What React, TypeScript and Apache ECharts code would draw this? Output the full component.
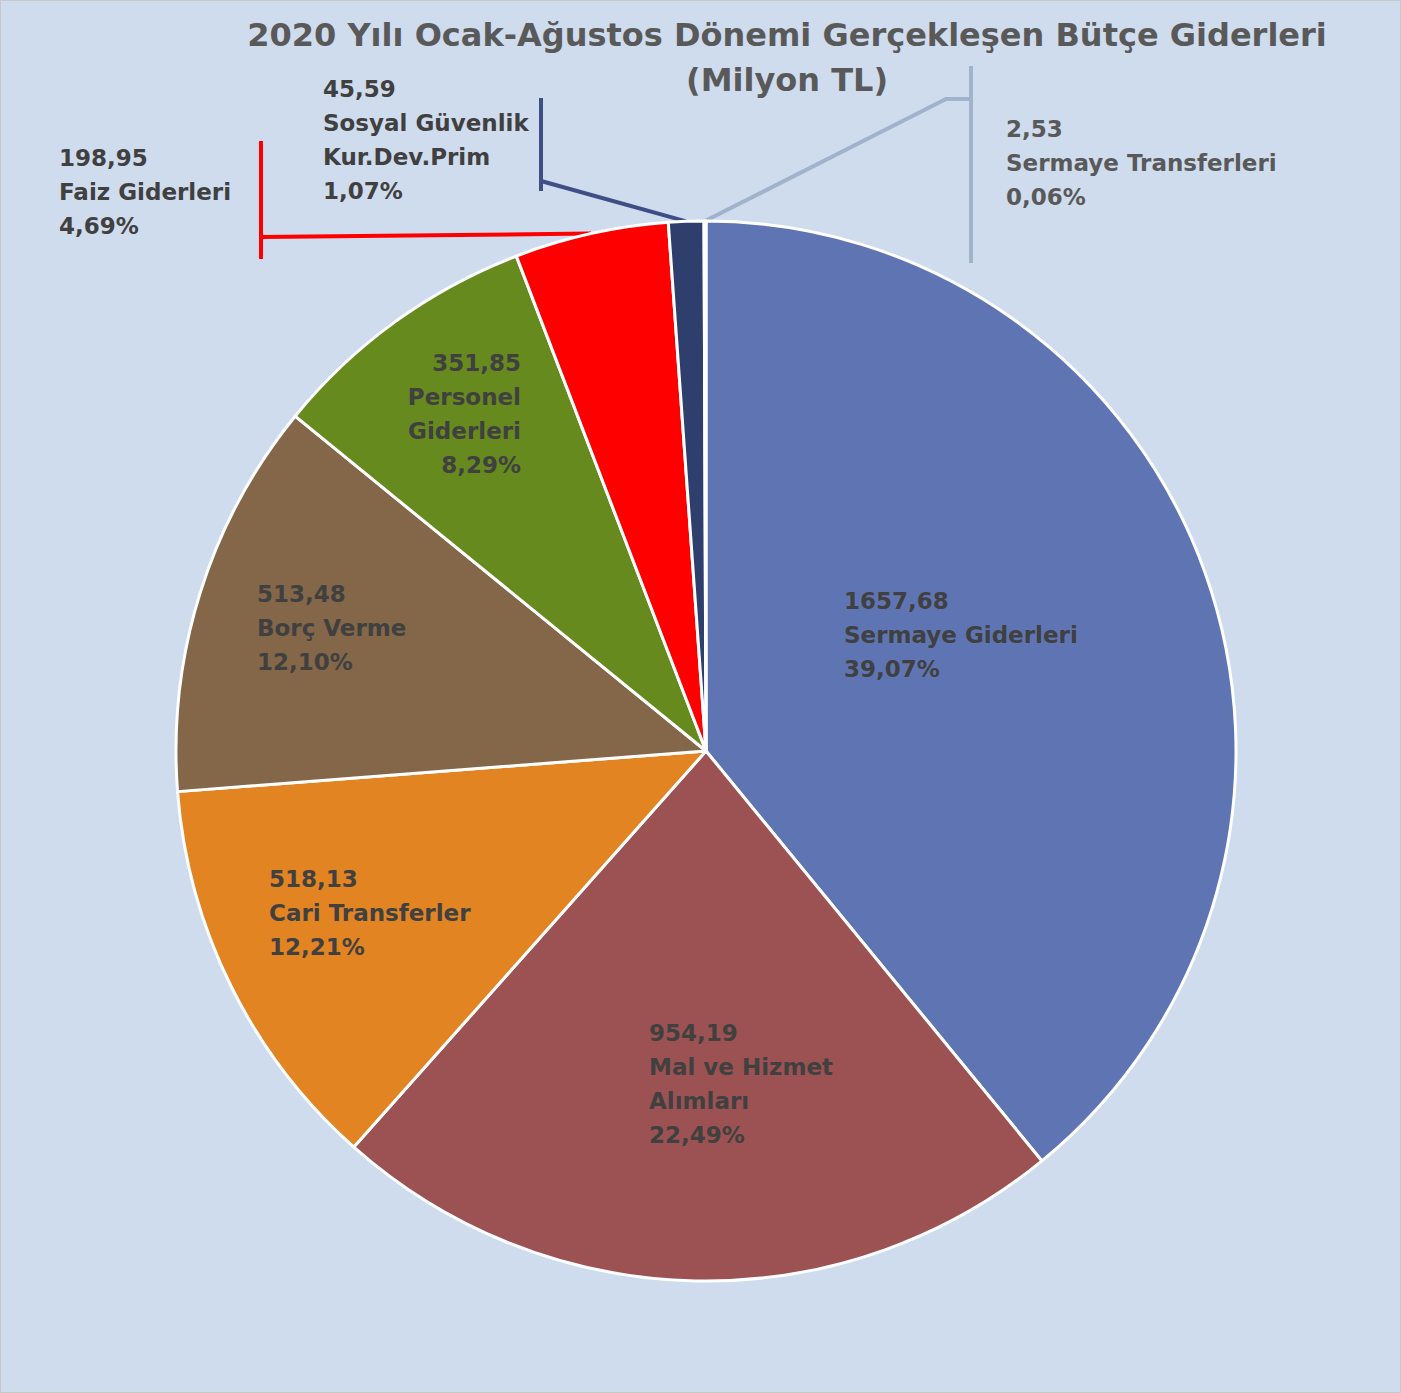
import React, { useEffect, useRef } from "react";
import * as echarts from "echarts";

const categories = [
  "Sermaye Giderleri",
  "Mal ve Hizmet Alımları",
  "Cari Transferler",
  "Borç Verme",
  "Personel Giderleri",
  "Faiz Giderleri",
  "Sosyal Güvenlik Kur.Dev.Prim",
  "Sermaye Transferleri",
];
// names as wrapped in the labels
const labelNames = [
  "Sermaye Giderleri",
  "Mal ve Hizmet\nAlımları",
  "Cari Transferler",
  "Borç Verme",
  "Personel\nGiderleri",
  "Faiz Giderleri",
  "Sosyal Güvenlik\nKur.Dev.Prim",
  "Sermaye Transferleri",
];
const values = [1657.68, 954.19, 518.13, 513.48, 351.85, 198.95, 45.59, 2.53];
const colors = ["#5f75b3", "#9c5252", "#e38422", "#836748", "#668a1e", "#ff0000", "#2f3f6d", "#a3b3cc"];
const leaderColors = ["", "", "", "", "", "#ff0000", "#3e4f86", "#a1b2cb"];
const labelColors = ["#404040", "#404040", "#404040", "#404040", "#404040", "#404040", "#404040", "#595959"];

// label placement (top-left / top-right of text block)
const labelPos: { x: number; y: number; align: string }[] = [
  { x: 843, y: 583, align: "left" },
  { x: 648, y: 1015, align: "left" },
  { x: 268, y: 861, align: "left" },
  { x: 256, y: 576, align: "left" },
  { x: 520, y: 345, align: "right" },
  { x: 58, y: 140, align: "left" },
  { x: 322, y: 71, align: "left" },
  { x: 1005, y: 111, align: "left" },
];
// leader line bends (after the slice anchor)
const leaderBends: Record<number, number[][]> = {
  5: [[260, 236], [260, 258], [260, 140]],
  6: [[540, 180], [540, 190], [540, 97]],
  7: [[945, 98], [970, 98], [970, 262], [970, 65]],
};

const TITLE = "2020 Yılı Ocak-Ağustos Dönemi Gerçekleşen Bütçe Giderleri\n(Milyon TL)";

const fmt = (v: number) => v.toFixed(2).replace(".", ",");

export default function App() {
  const ref = useRef<HTMLDivElement>(null);
  useEffect(() => {
    if (!ref.current) return;
    const chart = echarts.init(ref.current, undefined, { renderer: "svg" });
    const total = values.reduce((a, b) => a + b, 0);
    const data = values.map((v, i) => {
      const outside = i >= 5;
      return {
        name: categories[i],
        value: v,
        itemStyle: { color: colors[i] },
        label: {
          position: outside ? "outside" : "inside",
          color: labelColors[i],
        },
        labelLine: outside
          ? { show: true, smooth: false, length: 10, length2: 10, lineStyle: { color: leaderColors[i], width: 4 } }
          : { show: false },
      };
    });
    chart.setOption({
      animation: false,
      backgroundColor: "#cfdcee",
      title: {
        text: TITLE,
        left: 781,
        top: 6,
        textAlign: "center",
        textStyle: {
          fontFamily: "DejaVu Sans",
          fontWeight: "bold",
          fontSize: 32,
          lineHeight: 45,
          color: "#595959",
        },
      },
      series: [
        {
          type: "pie",
          center: [705, 750],
          radius: 530,
          startAngle: 90,
          clockwise: true,
          avoidLabelOverlap: false,
          itemStyle: { borderColor: "#ffffff", borderWidth: 3 },
          label: {
            show: true,
            fontFamily: "DejaVu Sans",
            fontWeight: "bold",
            fontSize: 23,
            lineHeight: 34,
            formatter: (p: any) =>
              `${fmt(p.value)}\n${labelNames[p.dataIndex]}\n${fmt((p.value / total) * 100)}%`,
          },
          labelLayout: (p: any) => {
            const i = p.dataIndex;
            const lp = labelPos[i];
            const res: any = { x: lp.x, y: lp.y, align: lp.align, verticalAlign: "top" };
            if (leaderBends[i] && p.labelLinePoints && p.labelLinePoints[0]) {
              res.labelLinePoints = [p.labelLinePoints[0], ...leaderBends[i]];
            }
            return res;
          },
          data,
        },
      ],
    });
    return () => chart.dispose();
  }, []);
  return (
    <div
      ref={ref}
      style={{ position: "absolute", left: 0, top: 0, width: 1401, height: 1393, border: "1px solid #c8c8c8", boxSizing: "border-box" }}
    />
  );
}
